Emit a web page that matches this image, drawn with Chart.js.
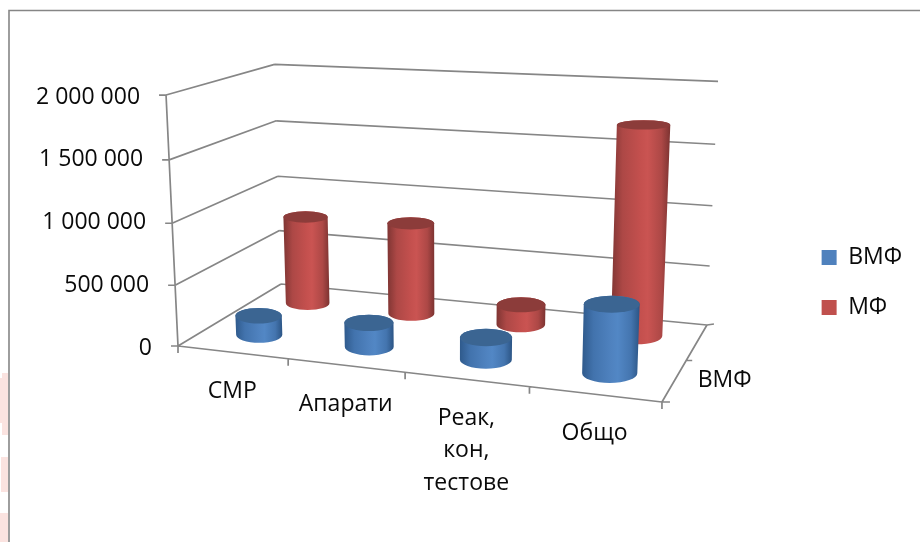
<!DOCTYPE html>
<html><head><meta charset="utf-8">
<style>html,body{margin:0;padding:0;background:#fff}canvas{display:block}</style>
<script src="https://cdn.jsdelivr.net/npm/chart.js@4"></script>
</head><body><canvas id="c" width="920" height="542"></canvas>
<script>
const categories = ["СМР", "Апарати", ["Реак,", "кон,", "тестове"], "Общо"];
const seriesNames = ["ВМФ", "МФ"];
const vmfValues = [160000, 197000, 177000, 534000];
const mfValues = [767000, 783000, 168000, 1708000];
const yMax = 2000000, yStep = 500000;

const FONT = '"Open Sans", sans-serif', FSIZE = 23, INK = '#0a0a0a', GRID = '#868686';
// projective camera of the 3D box: (u along categories, v in depth, h in height), each 0..1
const P = {ax:407.3,bx:144.7,cx:178,dx:-19, ay:9.45,by:-19.85,cy:346,dy:-255, g:-0.1158,h:0.1484,k:-0.0424};
function proj(u,v,h){
  const w = 1 + P.g*u + P.h*v + P.k*h;
  return {x:(P.ax*u+P.bx*v+P.cx+P.dx*h)/w, y:(P.ay*u+P.by*v+P.cy+P.dy*h)/w};
}
const RU = 0.054, RV = 0.12;
const palette = [
  {top:'#3b6592', stops:['#2f5a8c','#4273ad','#4f82bf','#5287c5','#4475af','#2c5585'], box:'#4f81bd'},
  {top:'#8c3c3a', stops:['#7f3533','#ad4846','#c4504e','#ca5452','#ad4846','#7c3331'], box:'#c0504d'}
];

class Cylinder3D extends Chart.BarController {
  draw(){
    const meta = this.getMeta(), ctx = this.chart.ctx, yS = meta.yScale, xS = meta.xScale;
    const v = (this.index + 0.5) / 2, col = palette[this.index];
    meta.data.forEach((el,i)=>{
      const u = (xS.getPixelForValue(i) - xS.left) / xS.width;
      const h = (yS.bottom - el.y) / yS.height;
      const ell = (hh)=>{
        const c = proj(u,v,hh), l = proj(u-RU,v,hh), r = proj(u+RU,v,hh);
        const f = proj(u,v-RV,hh), b = proj(u,v+RV,hh);
        return {x:c.x, y:c.y, rx:(r.x-l.x)/2, ry:(f.y-b.y)/2, l:c.x-(r.x-l.x)/2, r:c.x+(r.x-l.x)/2};
      };
      const B = ell(0), T = ell(h);
      const gr = ctx.createLinearGradient(Math.min(B.l,T.l),0,Math.max(B.r,T.r),0);
      [0,.2,.5,.62,.85,1].forEach((s,k)=>gr.addColorStop(s,col.stops[k]));
      ctx.save();
      ctx.beginPath();
      ctx.moveTo(T.l,T.y);
      ctx.lineTo(B.l,B.y);
      ctx.ellipse(B.x,B.y,B.rx,B.ry,0,Math.PI,0,true);
      ctx.lineTo(T.r,T.y);
      ctx.ellipse(T.x,T.y,T.rx,T.ry,0,0,Math.PI,true);
      ctx.closePath();
      ctx.fillStyle = gr; ctx.fill();
      ctx.beginPath();
      ctx.ellipse(T.x,T.y,T.rx,T.ry,0,0,Math.PI*2);
      ctx.fillStyle = col.top; ctx.fill();
      ctx.restore();
    });
  }
}
Cylinder3D.id = 'cylinder3d';
Cylinder3D.defaults = Chart.BarController.defaults;
Cylinder3D.overrides = Chart.BarController.overrides;

class SlantLinear extends Chart.LinearScale {
  _computeLabelItems(area){
    const items = super._computeLabelItems(area);
    const base = proj(0,0,0).x;
    items.forEach(it=>{
      const t = it.options.translation;
      const hh = (this.bottom - t[1]) / this.height;
      t[0] += proj(0,0,hh).x - base;
      t[1] += 2;
    });
    return items;
  }
}
SlantLinear.id = 'slantLinear';
SlantLinear.defaults = Chart.LinearScale.defaults;
Chart.register(Cylinder3D, SlantLinear);

const seg = (ctx,a,b)=>{ctx.moveTo(a.x,a.y);ctx.lineTo(b.x,b.y);};
const walls = {
  id:'walls',
  beforeDraw(chart){
    const ctx = chart.ctx;
    ctx.save();
    ctx.fillStyle='#fff'; ctx.fillRect(0,0,920,542);
    ctx.fillStyle='#fbe3e0';
    ctx.fillRect(2,373,6,62); ctx.fillRect(0,378,8,45);
    ctx.fillRect(1,457,7,35); ctx.fillRect(0,513,8,29);
    ctx.strokeStyle=GRID; ctx.lineWidth=1.6;
    ctx.beginPath(); ctx.moveTo(9,542); ctx.lineTo(9,10.5); ctx.lineTo(920,10.5); ctx.stroke();
    ctx.restore();
  },
  beforeDatasetsDraw(chart){
    const ctx = chart.ctx, y = chart.scales.y, x = chart.scales.x;
    ctx.save();
    ctx.strokeStyle=GRID; ctx.lineWidth=1.7;
    ctx.beginPath();
    y.ticks.forEach(t=>{
      const hh = (y.bottom - y.getPixelForValue(t.value)) / y.height;
      const a = proj(0,0,hh), b = proj(0,1,hh), c = proj(1,1,hh);
      seg(ctx,a,b); seg(ctx,b,c);
      seg(ctx,a,{x:a.x-7,y:a.y});
    });
    seg(ctx,proj(0,0,0),proj(0,0,1));
    seg(ctx,proj(0,0,0),proj(1,0,0));
    seg(ctx,proj(1,0,0),proj(1,1,0));
    const bk = proj(1,1,0); seg(ctx,bk,{x:bk.x+7,y:bk.y-1});
    const md = proj(1,.5,0); seg(ctx,md,{x:md.x+6,y:md.y});
    const fr = proj(1,0,0); seg(ctx,fr,{x:fr.x+8,y:fr.y});
    categories.forEach((_,i)=>{
      const a = proj(i/categories.length,0,0); seg(ctx,a,{x:a.x,y:a.y+7});
    });
    seg(ctx,fr,{x:fr.x,y:fr.y+7});
    ctx.stroke();

    ctx.fillStyle=INK; ctx.font=FSIZE+'px '+FONT; ctx.textAlign='center'; ctx.textBaseline='middle';
    categories.forEach((c,i)=>{
      const u = (x.getPixelForValue(i)-x.left)/x.width, p = proj(u,0,0);
      [].concat(c).forEach((ln,k)=>ctx.fillText(ln,p.x,p.y+39+k*32.5));
    });
    const d = proj(1,.25,0);
    ctx.fillText(seriesNames[0],d.x+50,d.y);
    ctx.restore();
  }
};

new Chart(document.getElementById('c'),{
  type:'cylinder3d',
  data:{labels:categories,datasets:[
    {label:seriesNames[0],data:vmfValues,backgroundColor:palette[0].box,borderWidth:0,clip:false},
    {label:seriesNames[1],data:mfValues,backgroundColor:palette[1].box,borderWidth:0,clip:false}
  ]},
  options:{
    responsive:false,animation:false,events:[],
    layout:{padding:{left:0,top:95,bottom:196,right:8}},
    scales:{
      x:{display:false,offset:true,grid:{display:false}},
      y:{type:'slantLinear',position:'left',min:0,max:yMax,
         afterFit(s){s.width=160;},
         border:{display:false},grid:{display:false,drawTicks:false},
         ticks:{stepSize:yStep,padding:8,color:INK,font:{family:FONT,size:FSIZE},
           callback:v=>String(v).replace(/\B(?=(\d{3})+$)/g,' ')}}
    },
    plugins:{
      tooltip:{enabled:false},
      legend:{position:'right',align:'end',
        labels:{boxWidth:15,boxHeight:15,padding:27,color:INK,font:{family:FONT,size:FSIZE}}}
    }
  },
  plugins:[walls]
});
</script></body></html>
